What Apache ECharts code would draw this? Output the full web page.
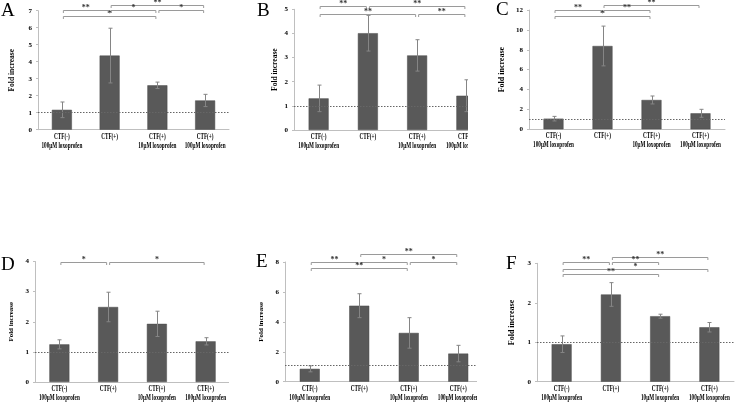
<!DOCTYPE html>
<html>
<head>
<meta charset="utf-8">
<script src="https://cdn.jsdelivr.net/npm/echarts@6/dist/echarts.min.js"></script>
<style>
html,body{margin:0;padding:0;background:#fff;}
#wrap{position:relative;width:740px;height:403px;overflow:hidden;background:#fff;}
.p{position:absolute;overflow:hidden;}
.c{position:absolute;left:0;top:0;width:250px;}
</style>
</head>
<body>
<div id="wrap">
  <div class="p" style="left:0;top:0;width:245px;height:200px"><div class="c" id="pA" style="height:200px"></div></div>
  <div class="p" style="left:245px;top:0;width:223px;height:200px"><div class="c" id="pB" style="height:200px"></div></div>
  <div class="p" style="left:490px;top:0;width:250px;height:200px"><div class="c" id="pC" style="height:200px"></div></div>
  <div class="p" style="left:0;top:200px;width:229px;height:203px"><div class="c" id="pD" style="height:203px"></div></div>
  <div class="p" style="left:245px;top:200px;width:232px;height:203px"><div class="c" id="pE" style="height:203px"></div></div>
  <div class="p" style="left:490px;top:200px;width:250px;height:203px"><div class="c" id="pF" style="height:203px"></div></div>
</div>
<script>
// ---------------- data ----------------
const categories = ['CTF(-)\n100μM loxoprofen', 'CTF(+)', 'CTF(+)\n10μM loxoprofen', 'CTF(+)\n100μM loxoprofen'];
const panelLetters = ['A', 'B', 'C', 'D', 'E', 'F'];
const yAxisName = 'Fold increase';

const meanA = [1.17, 4.36, 2.61, 1.72];
const sdA   = [0.46, 1.61, 0.19, 0.36];
const meanB = [1.31, 4.01, 3.09, 1.42];
const sdB   = [0.55, 0.74, 0.65, 0.66];
const meanC = [1.07, 8.38, 2.95, 1.61];
const sdC   = [0.23, 2.00, 0.40, 0.40];
const meanD = [1.25, 2.49, 1.93, 1.35];
const sdD   = [0.15, 0.49, 0.42, 0.12];
const meanE = [0.86, 5.08, 3.26, 1.88];
const sdE   = [0.20, 0.80, 1.02, 0.55];
const meanF = [0.95, 2.21, 1.66, 1.38];
const sdF   = [0.21, 0.30, 0.05, 0.12];

// y-axis ranges / tick steps
const yMax      = [7, 5, 12, 4, 8, 3];
const yInterval = [1, 1, 2, 1, 2, 1];
// dotted reference line level
const refLevel  = [1, 1, 1, 1, 1.1, 1];

// significance brackets: [fromCategory, toCategory, level, label]
const sigA = [[1, 3, 7.35, '**'], [0, 1, 7.04, '**'], [1, 2, 7.04, '*'], [2, 3, 7.04, '*'], [0, 2, 6.69, '*']];
const sigB = [[0, 1, 5.15, '**'], [1, 3, 5.15, '**'], [0, 2, 4.80, '**'], [2, 3, 4.80, '**']];
const sigC = [[1, 3, 12.5, '**'], [0, 1, 12.0, '**'], [1, 2, 12.0, '**'], [0, 2, 11.4, '*']];
const sigD = [[0, 1, 4.0, '*'], [1, 3, 4.0, '*']];
const sigE = [[1, 3, 8.51, '**'], [0, 1, 8.0, '**'], [1, 2, 8.0, '*'], [2, 3, 8.0, '*'], [0, 2, 7.58, '**']];
const sigF = [[1, 3, 3.17, '**'], [0, 1, 3.03, '**'], [1, 2, 3.03, '**'], [0, 3, 2.86, '*'], [0, 2, 2.73, '**']];

const means = [meanA, meanB, meanC, meanD, meanE, meanF];
const sds   = [sdA, sdB, sdC, sdD, sdE, sdF];
const sigs  = [sigA, sigB, sigC, sigD, sigE, sigF];

// ---------------- layout (pixels, relative to each panel) ----------------
const layouts = [
  { id: 'pA', grid: { left: 31, top: 10.7, width: 198, height: 119 }, letter: { left: 1, top: 2 }, nameGap: 22, nameSize: 7.5 },
  { id: 'pB', grid: { left: 49, top: 9.3, width: 197, height: 120.7 }, letter: { left: 12, top: 2 }, nameGap: 15, nameSize: 7.5 },
  { id: 'pC', grid: { left: 38, top: 10, width: 197, height: 119.3 }, letter: { left: 6, top: 1 }, nameGap: 23, nameSize: 8 },
  { id: 'pD', grid: { left: 33, top: 61.5, width: 197, height: 120.5 }, letter: { left: 1, top: 56 }, nameGap: 20, nameSize: 7 },
  { id: 'pE', grid: { left: 40, top: 62, width: 198, height: 119.7 }, letter: { left: 11, top: 53 }, nameGap: 20, nameSize: 7 },
  { id: 'pF', grid: { left: 47, top: 63.3, width: 197, height: 118.4 }, letter: { left: 16, top: 55 }, nameGap: 21, nameSize: 8 }
];

const SERIF = '"Liberation Serif", "Times New Roman", serif';

function buildPanel(k) {
  const L = layouts[k];
  const m = means[k], s = sds[k], sig = sigs[k];
  const errData = m.map((v, i) => [i, v - s[i], v + s[i]]);
  const chart = echarts.init(document.getElementById(L.id), null, { renderer: 'canvas' });
  chart.setOption({
    animation: false,
    backgroundColor: '#fff',
    title: {
      text: panelLetters[k], left: L.letter.left, top: L.letter.top, padding: 0,
      textStyle: { fontFamily: SERIF, fontSize: 19, fontWeight: 'normal', color: '#000' }
    },
    grid: Object.assign({ containLabel: false }, L.grid),
    xAxis: {
      type: 'category', data: categories,
      axisLine: { lineStyle: { color: '#bfbfbf', width: 1 } },
      axisTick: { show: false },
      axisLabel: { show: false },
      splitLine: { show: false }
    },
    yAxis: {
      type: 'value', min: 0, max: yMax[k], interval: yInterval[k],
      name: yAxisName, nameLocation: 'middle', nameRotate: 90, nameGap: L.nameGap, nameMoveOverlap: false,
      nameTextStyle: { fontFamily: SERIF, fontWeight: 'bold', fontSize: L.nameSize, color: '#000' },
      axisLine: { show: true, lineStyle: { color: '#bfbfbf', width: 1 } },
      axisTick: { show: true, length: 2, lineStyle: { color: '#bfbfbf' } },
      axisLabel: { color: '#000', fontFamily: SERIF, fontWeight: 'bold', fontSize: 7, margin: 6 },
      splitLine: { show: false }
    },
    series: [
      {
        type: 'bar', data: m, barWidth: 20, z: 2,
        itemStyle: { color: '#595959', borderColor: '#4a4a4a', borderWidth: 0.5 },
        markLine: {
          silent: true, symbol: 'none', label: { show: false },
          lineStyle: { color: '#666', type: [1.5, 1.5], width: 1 },
          data: [{ yAxis: refLevel[k] }]
        }
      },
      {
        type: 'custom', data: errData, z: 4, clip: false,
        encode: { x: 0, y: [1, 2] },
        renderItem: function (p, api) {
          const lo = api.coord([api.value(0), api.value(1)]);
          const hi = api.coord([api.value(0), api.value(2)]);
          const x = Math.round(lo[0]) + 0.5, w = 2;
          const st = { stroke: '#858585', lineWidth: 1 };
          return { type: 'group', children: [
            { type: 'line', shape: { x1: x, y1: hi[1], x2: x, y2: lo[1] }, style: st },
            { type: 'line', shape: { x1: x - w, y1: hi[1], x2: x + w, y2: hi[1] }, style: st },
            { type: 'line', shape: { x1: x - w, y1: lo[1], x2: x + w, y2: lo[1] }, style: st }
          ] };
        }
      },
      {
        type: 'custom', data: sig.map(r => [r[0], r[1], r[2]]), z: 5, clip: false,
        encode: { x: [0, 1], y: 2 },
        renderItem: function (p, api) {
          const a = api.coord([api.value(0), api.value(2)]);
          const b = api.coord([api.value(1), api.value(2)]);
          const x1 = a[0] + 1.5, x2 = b[0] - 1.5, y = Math.round(a[1]) + 0.5;
          const label = sig[p.dataIndex][3];
          return { type: 'group', children: [
            { type: 'polyline', shape: { points: [[x1, y + 2.5], [x1, y], [x2, y], [x2, y + 2.5]] },
              style: { stroke: '#9a9a9a', lineWidth: 1, fill: null } },
            { type: 'text', style: { text: label, x: (x1 + x2) / 2, y: y + 1.5, align: 'center', verticalAlign: 'bottom',
              font: 'bold 8px ' + SERIF, fill: '#333' } }
          ] };
        }
      },
      {
        // category labels (horizontally condensed, as in the original figure)
        type: 'custom', data: categories.map((c, i) => [i, 0]), z: 6, clip: false, silent: true,
        encode: { x: 0, y: 1 },
        renderItem: function (p, api) {
          const pt = api.coord([api.value(0), 0]);
          return {
            type: 'text', x: pt[0], y: pt[1] + 2.5, scaleX: 0.65,
            style: { text: categories[p.dataIndex], x: 0, y: 0, align: 'center', verticalAlign: 'top',
              font: 'bold 8px ' + SERIF, lineHeight: 9, fill: '#000' }
          };
        }
      }
    ]
  });
}
for (let k = 0; k < 6; k++) buildPanel(k);
</script>
</body>
</html>
